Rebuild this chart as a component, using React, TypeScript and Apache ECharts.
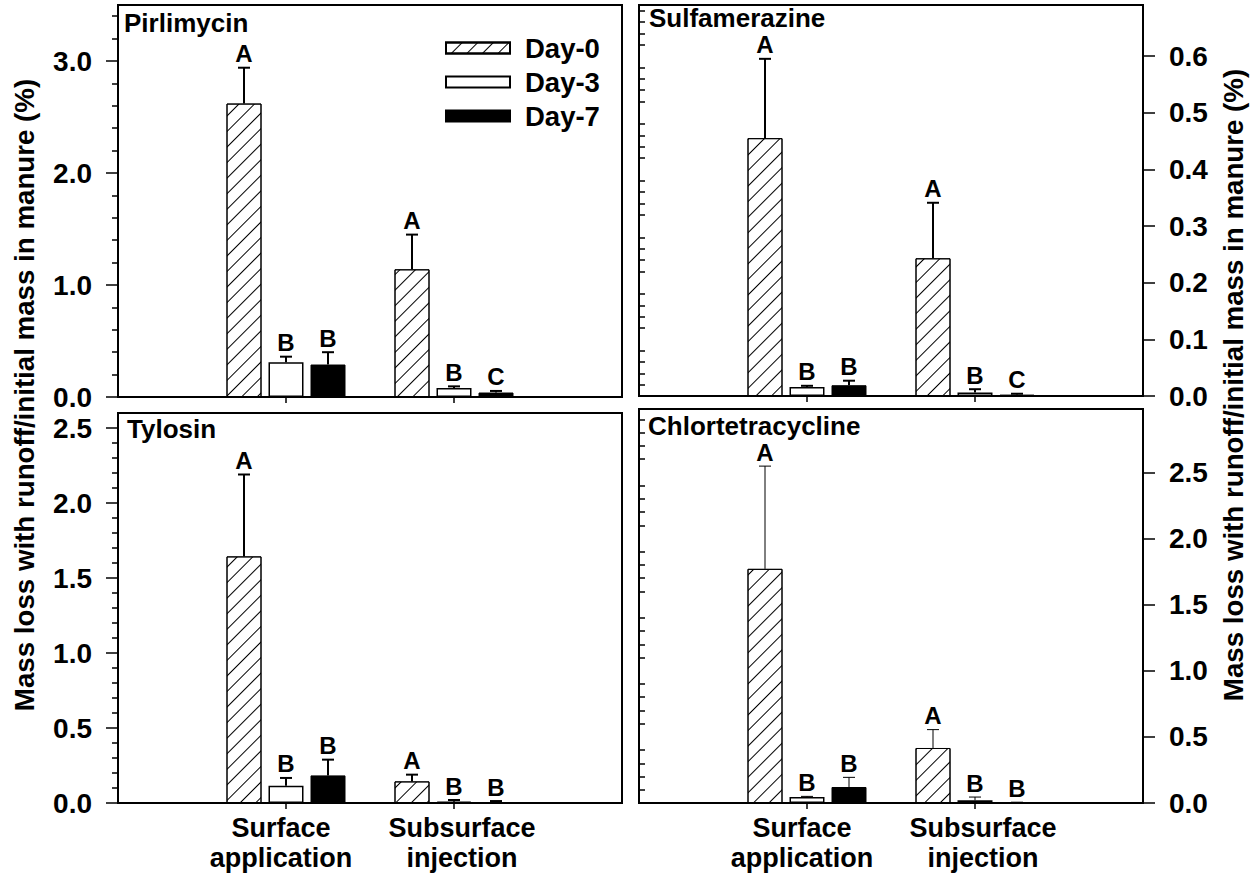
import React, { useEffect, useRef } from 'react';
import * as echarts from 'echarts';

// ---------------- data ----------------
const groupLabels = ['', 'Surface\napplication', 'Subsurface\ninjection', ''];
const dayNames = ['Day-0', 'Day-3', 'Day-7'];
const panelTitles = ['Pirlimycin', 'Sulfamerazine', 'Tylosin', 'Chlortetracycline'];
const yTitle = 'Mass loss with runoff/initial mass in manure (%)';

// [group][day] : group 0 = Surface application, 1 = Subsurface injection
const pirlimycinMean = [[2.62, 0.31, 0.29], [1.14, 0.08, 0.04]];
const pirlimycinUpper = [[2.94, 0.36, 0.40], [1.45, 0.095, 0.054]];
const pirlimycinLetters = [['A', 'B', 'B'], ['A', 'B', 'C']];

const sulfamerazineMean = [[0.455, 0.016, 0.019], [0.243, 0.006, 0.0025]];
const sulfamerazineUpper = [[0.595, 0.018, 0.027], [0.341, 0.012, 0.004]];
const sulfamerazineLetters = [['A', 'B', 'B'], ['A', 'B', 'C']];

const tylosinMean = [[1.644, 0.115, 0.184], [0.144, 0.009, 0.005]];
const tylosinUpper = [[2.19, 0.167, 0.289], [0.189, 0.02, 0.013]];
const tylosinLetters = [['A', 'B', 'B'], ['A', 'B', 'B']];

const chlortetracyclineMean = [[1.771, 0.045, 0.121], [0.416, 0.02, 0.003]];
const chlortetracyclineUpper = [[2.548, 0.05, 0.194], [0.555, 0.045, 0.006]];
const chlortetracyclineLetters = [['A', 'B', 'B'], ['A', 'B', 'B']];

// axis ticks
const pirlimycinTicks = [0, 1, 2, 3];
const sulfamerazineTicks = [0, 0.1, 0.2, 0.3, 0.4, 0.5, 0.6];
const tylosinTicks = [0, 0.5, 1, 1.5, 2, 2.5];
const chlortetracyclineTicks = [0, 0.5, 1, 1.5, 2, 2.5];
const yMaxes = [3.5, 0.69, 2.6, 2.98];
const minorSteps = [0.2, 0.02, 0.1, 0.1];

// ---------------- layout ----------------
const FONT = '"Liberation Sans", Arial, Helvetica, sans-serif';
const rects = [
  { left: 118, top: 5, width: 504, height: 392, side: 'left' },
  { left: 639, top: 5, width: 504, height: 391, side: 'right' },
  { left: 118, top: 413, width: 504, height: 390, side: 'left' },
  { left: 639, top: 409, width: 504, height: 394, side: 'right' },
];
const titlePos = [
  [124, 22.5],
  [649, 18],
  [127, 429],
  [648, 425.5],
];
const errWidths = [2, 2, 2, 1];
const BAR_W = 35;
const BAR_STEP = 42;

export default function App() {
  const ref = useRef<HTMLDivElement>(null);

  useEffect(() => {
    document.body.style.margin = '0';
    if (!ref.current) return;
    const chart = echarts.init(ref.current, undefined, { renderer: 'svg' });

    const means = [pirlimycinMean, sulfamerazineMean, tylosinMean, chlortetracyclineMean];
    const uppers = [pirlimycinUpper, sulfamerazineUpper, tylosinUpper, chlortetracyclineUpper];
    const letters = [pirlimycinLetters, sulfamerazineLetters, tylosinLetters, chlortetracyclineLetters];
    const ticks = [pirlimycinTicks, sulfamerazineTicks, tylosinTicks, chlortetracyclineTicks];

    const minorTicks = yMaxes.map((mx, i) => {
      const out: number[] = [];
      const step = minorSteps[i];
      for (let k = 1; k * step < mx - 1e-9; k++) {
        const v = +(k * step).toFixed(4);
        if (!ticks[i].some((t) => Math.abs(t - v) < 1e-9)) out.push(v);
      }
      return out;
    });

    const grids: any[] = [];
    const xAxes: any[] = [];
    const yAxes: any[] = [];
    const series: any[] = [];

    rects.forEach((r) => {
      grids.push({
        left: r.left, top: r.top, width: r.width, height: r.height,
        show: true, borderColor: '#000', borderWidth: 2, backgroundColor: 'transparent',
      });
    });
    rects.forEach((r) => {
      grids.push({ left: r.left, top: r.top, width: r.width, height: r.height, show: false });
    });

    rects.forEach((r, i) => {
      xAxes.push({
        type: 'category', gridIndex: i, data: groupLabels, boundaryGap: false,
        axisLine: { show: true, lineStyle: { color: '#000', width: 2 } },
        axisTick: {
          show: true, interval: (idx: number) => idx === 1 || idx === 2,
          length: 6, lineStyle: { color: '#000', width: 1.5 },
        },
        axisLabel: {
          show: i >= 2, interval: 0, margin: 10,
          color: '#000', fontSize: 27, fontWeight: 'bold', fontFamily: FONT, lineHeight: 30,
          formatter: (v: string) => {
            if (!v) return '';
            const lines = v.split('\n');
            const tag = v.startsWith('Surface') ? 's' : 'b';
            return lines.map((l) => `{${tag}|${l}}`).join('\n');
          },
          rich: {
            s: { fontSize: 27, fontWeight: 'bold', fontFamily: FONT, color: '#000', lineHeight: 30, padding: [0, 10, 0, 0] },
            b: { fontSize: 27, fontWeight: 'bold', fontFamily: FONT, color: '#000', lineHeight: 30, padding: [0, 0, 0, 16] },
          },
        },
        splitLine: { show: false },
      });
      yAxes.push({
        type: 'value', gridIndex: i, position: r.side, min: 0, max: yMaxes[i],
        axisLine: { show: true, lineStyle: { color: '#000', width: 2 } },
        axisTick: { show: true, customValues: ticks[i], length: 12, lineStyle: { color: '#000', width: 1.5 } },
        axisLabel: {
          customValues: ticks[i], margin: 26,
          formatter: (v: number) => v.toFixed(1),
          color: '#000', fontSize: 28, fontWeight: 'bold', fontFamily: FONT,
        },
        splitLine: { show: false },
      });
    });
    rects.forEach((r, i) => {
      xAxes.push({ type: 'value', gridIndex: 4 + i, show: false, min: 0, max: 1 });
      yAxes.push({
        type: 'value', gridIndex: 4 + i, position: r.side, min: 0, max: yMaxes[i],
        axisLine: { show: false },
        axisTick: { show: true, customValues: minorTicks[i], length: 6, lineStyle: { color: '#000', width: 1.5 } },
        axisLabel: { show: false },
        splitLine: { show: false },
      });
    });

    const dayStyles = [
      {
        color: '#fff', borderColor: '#000', borderWidth: 1,
        decal: {
          symbol: 'rect', symbolSize: 1, color: '#000',
          dashArrayX: [1, 0], dashArrayY: [1, 10], rotation: -Math.PI / 4,
        },
      },
      { color: '#fff', borderColor: '#000', borderWidth: 1.5 },
      { color: '#000', borderColor: '#000', borderWidth: 1 },
    ];

    for (let i = 0; i < 4; i++) {
      dayNames.forEach((name, d) => {
        series.push({
          type: 'bar', name, xAxisIndex: i, yAxisIndex: i,
          barWidth: BAR_W, barGap: '20%',
          itemStyle: dayStyles[d],
          data: [null, means[i][0][d], means[i][1][d], null],
          silent: true,
        });
      });
      const rows: any[] = [];
      const lettersFlat: string[] = [];
      for (let g = 0; g < 2; g++) {
        for (let d = 0; d < 3; d++) {
          rows.push([g + 1, d, means[i][g][d], uppers[i][g][d]]);
          lettersFlat.push(letters[i][g][d]);
        }
      }
      const lw = errWidths[i];
      series.push({
        type: 'custom', xAxisIndex: i, yAxisIndex: i, z: 5, silent: true,
        encode: { x: 0, y: 3 },
        data: rows,
        renderItem: (params: any, api: any) => {
          const cat = api.value(0);
          const d = api.value(1);
          const pMean = api.coord([cat, api.value(2)]);
          const pTop = api.coord([cat, api.value(3)]);
          const x = pMean[0] + (d - 1) * BAR_STEP;
          return {
            type: 'group',
            children: [
              { type: 'line', shape: { x1: x, y1: pMean[1], x2: x, y2: pTop[1] }, style: { stroke: '#000', lineWidth: lw } },
              { type: 'line', shape: { x1: x - 6, y1: pTop[1], x2: x + 6, y2: pTop[1] }, style: { stroke: '#000', lineWidth: lw } },
              {
                type: 'text', x, y: pTop[1] - 14,
                style: {
                  text: lettersFlat[params.dataIndex], fill: '#000',
                  fontSize: 24, fontWeight: 'bold', fontFamily: FONT,
                  align: 'center', verticalAlign: 'middle',
                },
              },
            ],
          };
        },
      });
    }

    const graphics: any[] = panelTitles.map((t, i) => ({
      type: 'text', x: titlePos[i][0], y: titlePos[i][1], silent: true,
      style: { text: t, fill: '#000', fontSize: 26, fontWeight: 'bold', fontFamily: FONT, align: 'left', verticalAlign: 'middle' },
    }));
    graphics.push({
      type: 'text', x: 24, y: 395, rotation: Math.PI / 2, silent: true,
      style: { text: yTitle, fill: '#000', fontSize: 27.7, fontWeight: 'bold', fontFamily: FONT, align: 'center', verticalAlign: 'middle' },
    });
    graphics.push({
      type: 'text', x: 1233, y: 385, rotation: Math.PI / 2, silent: true,
      style: { text: yTitle, fill: '#000', fontSize: 27.7, fontWeight: 'bold', fontFamily: FONT, align: 'center', verticalAlign: 'middle' },
    });

    chart.setOption({
      animation: false,
      backgroundColor: '#fff',
      legend: {
        show: true, data: dayNames, orient: 'vertical', left: 440, top: 29,
        itemWidth: 64, itemHeight: 11, itemGap: 6, icon: 'rect', selectedMode: false,
        textStyle: { fontSize: 27.5, fontWeight: 'bold', color: '#000', fontFamily: FONT, lineHeight: 27, padding: [0, 0, 0, 10] },
      },
      grid: grids,
      xAxis: xAxes,
      yAxis: yAxes,
      series,
      graphic: graphics,
    });

    return () => chart.dispose();
  }, []);

  return <div ref={ref} style={{ position: 'fixed', left: 0, top: 0, width: 1260, height: 880 }} />;
}
